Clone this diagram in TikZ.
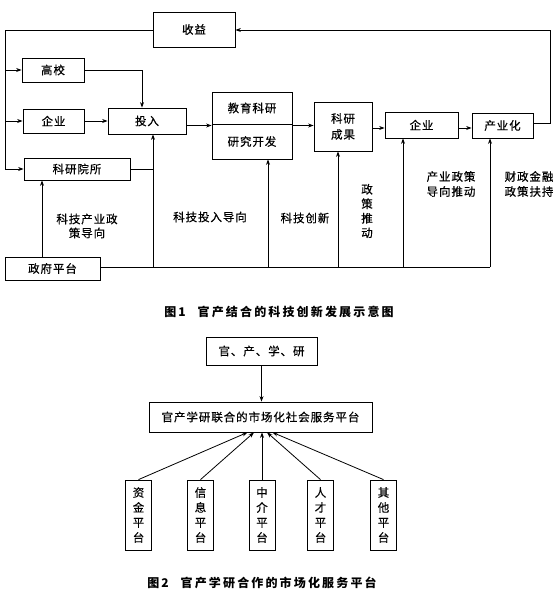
\documentclass[tikz,border=0pt]{standalone}
\usepackage{fontspec}
\setmainfont{Noto Sans CJK SC}[LetterSpace=8,FakeBold=0.5]
\newfontfamily\capfont{Noto Sans CJK SC}[LetterSpace=18]
\usetikzlibrary{arrows.meta}
\begin{document}
\begin{tikzpicture}[x=1pt,y=-1pt,
  every node/.style={font=\fontsize{11.5}{14}\selectfont},
  box/.style={draw,line width=0.8pt,minimum width=#1,inner sep=0pt,align=center},
  arr/.style={-{Stealth[length=5.5pt,width=4pt]}},
  lbl/.style={align=center,inner sep=0pt},
  vbox/.style={draw,line width=0.8pt,minimum width=26pt,minimum height=70pt,inner sep=0pt,align=center,font=\fontsize{11.5}{15}\selectfont},
  figcap/.style={inner sep=0pt,font=\capfont\fontsize{12}{14}\selectfont\bfseries}]
\useasboundingbox[fill=white] (0,0) rectangle (559,601);
\begin{scope}[line width=0.8pt]
% ---------------- Figure 1 ----------------
\node[box=82pt,minimum height=35pt] (shouyi) at (194,29.5) {收益};
\node[box=62pt,minimum height=24pt] (gaoxiao) at (53,70) {高校};
\node[box=61pt,minimum height=24pt] (qiye1) at (53.5,121) {企业};
\node[box=78pt,minimum height=26pt] (touru) at (147,121) {投入};
\node[box=80pt,minimum height=67pt] (jy) at (252,125.5) {};
\node[lbl] (jy1) at (252,108) {教育科研};
\node[lbl] (jy2) at (252,141.5) {研究开发};
\draw (jy.west |- 0,124) -- (jy.east |- 0,124);
\node[box=58pt,minimum height=49pt,font=\fontsize{11.5}{16}\selectfont] (kygc) at (343,126.5) {科研\\成果};
\node[box=73pt,minimum height=26pt] (qiye2) at (421.5,125) {企业};
\node[box=61pt,minimum height=25pt] (cyh) at (502.5,125.5) {产业化};
\node[box=106pt,minimum height=22pt] (kyys) at (77,169) {科研院所};
\node[box=95pt,minimum height=23pt] (zf) at (52.5,268.5) {政府平台};

\coordinate (L) at (5,30);
\coordinate (R) at (550,30);
\draw (shouyi.west |- L) -- (L) -- (L |- kyys.west);
\draw[arr] (L |- kyys.west) -- (kyys.west);
\draw[arr] (L |- gaoxiao.west) -- (gaoxiao.west);
\draw[arr] (L |- qiye1.west) -- (qiye1.west);
\draw[arr] (cyh.east |- 0,123) -| (R) -- (shouyi.east |- R);
\draw[arr] (gaoxiao.east) -| ([xshift=-5pt]touru.north);
\draw[arr] (qiye1.east) -- (touru.west);
\draw[arr] (touru.east |- jy.west) -- (jy.west);
\draw[arr] (jy.east) -- (kygc.west |- jy.east);
\draw[arr] (kygc.east |- 0,128) -- (qiye2.west |- 0,128);
\draw[arr] (qiye2.east |- 0,128) -- (cyh.west |- 0,128);

% government platform
\coordinate (G) at (490,267);
\draw (zf.east |- G) -- (G);
\draw[arr] ([xshift=6pt]touru.south |- G) -- ([xshift=6pt]touru.south);
\draw (kyys.east) -- ([xshift=6pt]touru.south |- kyys.east);
\draw[arr] ([xshift=16pt]jy.south |- G) -- ([xshift=16pt]jy.south);
\draw[arr] ([xshift=-5pt]kygc.south |- G) -- ([xshift=-5pt]kygc.south);
\draw[arr] ([xshift=-18.5pt]qiye2.south |- G) -- ([xshift=-18.5pt]qiye2.south);
\draw[arr] (G) -- (G |- cyh.south);
\draw[arr] ([xshift=-10.5pt]zf.north) -- ([xshift=-10.5pt]zf.north |- kyys.south);

\node[lbl] (t1) at (87,226) {科技产业政\\策导向};
\node[lbl] (t2) at (210,217) {科技投入导向};
\node[lbl] (t3) at (305,218) {科技创新};
\node[lbl,font=\fontsize{11.5}{14.5}\selectfont] (t4) at (367,211) {政\\策\\推\\动};
\node[lbl,font=\fontsize{11.5}{15}\selectfont] (t5) at (451,184) {产业政策\\导向推动};
\node[lbl,font=\fontsize{11.5}{15}\selectfont] (t6) at (529,184) {财政金融\\政策扶持};

\node[figcap] (cap1) at (279,312) {图\,1\quad 官产结合的科技创新发展示意图};

% ---------------- Figure 2 ----------------
\node[box=111pt,minimum height=28pt] (gcxy) at (261.5,351) {官、产、学、研};
\node[box=223pt,minimum height=30pt] (pt) at (260.5,417) {官产学研联合的市场化社会服务平台};
\draw[arr] (gcxy.south) -- (gcxy.south |- pt.north);

\node[vbox] (p1) at (138.5,515) {资\\金\\平\\台};
\node[vbox] (p2) at (200.5,515) {信\\息\\平\\台};
\node[vbox] (p3) at (262,515) {中\\介\\平\\台};
\node[vbox] (p4) at (320.5,515) {人\\才\\平\\台};
\node[vbox] (p5) at (383.5,515) {其\\他\\平\\台};
\draw[arr] (p1.north) -- ([xshift=-13pt]pt.south);
\draw[arr] (p2.north) -- ([xshift=-6.5pt]pt.south);
\draw[arr] (p3.north) -- (p3.north |- pt.south);
\draw[arr] (p4.north) -- ([xshift=6.5pt]pt.south);
\draw[arr] (p5.north) -- ([xshift=12pt]pt.south);

\node[figcap] (cap2) at (262,583) {图\,2\quad 官产学研合作的市场化服务平台};
\end{scope}
\end{tikzpicture}
\end{document}
